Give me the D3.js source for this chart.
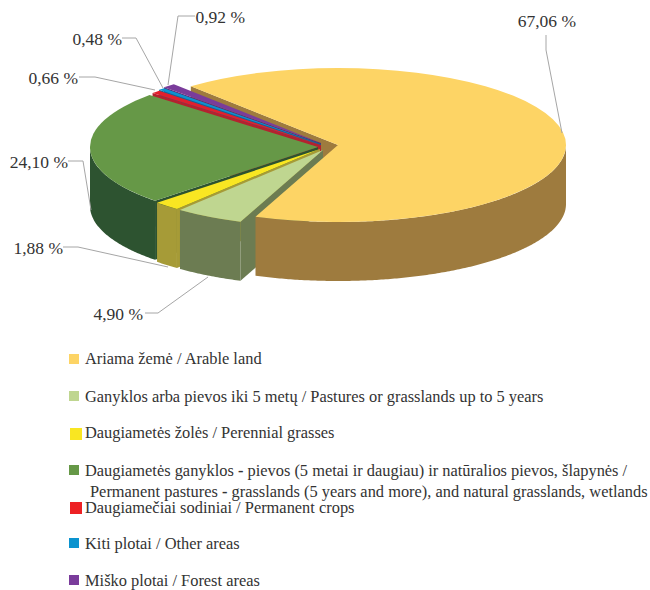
<!DOCTYPE html>
<html>
<head>
<meta charset="utf-8">
<script src="https://cdn.jsdelivr.net/npm/d3@7"></script>
<style>
  html, body { margin: 0; padding: 0; background: #fff; }
  text { font-family: "Liberation Serif", serif; fill: #333; }
</style>
</head>
<body>
<script>
const width = 650,
      height = 590;

const categories = [
  "Ariama žemė / Arable land",
  "Ganyklos arba pievos iki 5 metų / Pastures or grasslands up to 5 years",
  "Daugiametės žolės / Perennial grasses",
  "Daugiametės ganyklos - pievos (5 metai ir daugiau) ir natūralios pievos, šlapynės /",
  "Daugiamečiai sodiniai / Permanent crops",
  "Kiti plotai / Other areas",
  "Miško plotai / Forest areas"
];
const legendExtra = "Permanent pastures - grasslands (5 years and more), and natural grasslands, wetlands";
const values = [67.06, 4.90, 1.88, 24.10, 0.66, 0.48, 0.92];
const valueLabels = ["67,06 %", "4,90 %", "1,88 %", "24,10 %", "0,66 %", "0,48 %", "0,92 %"];

const topColors = ["#fdd465", "#bfd690", "#f9e622", "#669847", "#e21f2d", "#0b93cf", "#7a3c9b"];
const wallColors = ["#9e7b3e", "#6c7c52", "#a69b37", "#2d5330", "#b4222f", "#0a6c98", "#5a2c73"];
const legendColors = ["#fdd465", "#bfd690", "#f9e622", "#669847", "#ed2124", "#0b93cf", "#7a3c9b"];

// where each exploded slice has its centre on the page
const centres = [[338, 145], [323, 150], [320, 149], [318, 147], [321, 145], [321, 144], [321, 143]];
const rx = 228, ry = 77, depth = 59;
const startDeg = -40.2;

// label right edge, baseline y, then the leader line
const labelPos = [
  { x: 576, y: 27, line: [[546, 35], [546, 50], [562, 133]] },
  { x: 143, y: 320, line: [[145, 313], [158, 313], [208, 277]] },
  { x: 63, y: 254, line: [[63, 247], [78, 247], [168, 267]] },
  { x: 68, y: 168, line: [[68, 161], [83, 161], [91, 210]] },
  { x: 78, y: 84, line: [[79, 77], [95, 77], [155, 90]] },
  { x: 122, y: 45, line: [[122, 38], [136, 38], [163, 88]] },
  { x: 245, y: 23, line: [[195, 16], [178, 16], [168, 85]] }
];

const legendY = [364, 402, 438, 476, 513, 549, 586];
const legendBox = [[69, 354, 10], [69, 391, 10], [70, 428, 12], [69, 465, 10], [70, 502, 12], [69, 538, 10], [69, 575, 10]];

const svg = d3.select("body").append("svg")
  .attr("width", width)
  .attr("height", height);

const pie = d3.pie().sort(null)
  .startAngle(startDeg * Math.PI / 180)
  .endAngle((360 + startDeg) * Math.PI / 180);
const slices = pie(values);

const arc = d3.arc().innerRadius(0).outerRadius(rx);
const line = d3.line();

const px = (c, a) => c[0] + rx * Math.sin(a);
const py = (c, a) => c[1] - ry * Math.cos(a);

// curved outer wall, only the part facing the viewer (angle between 90 and 270 deg)
function wallPath(c, a0, a1) {
  const from = Math.max(a0, Math.PI / 2),
        to = Math.min(a1, Math.PI * 3 / 2);
  if (to <= from) return null;
  const pts = d3.range(from, to, 0.01).concat(to).map(a => [px(c, a), py(c, a)]);
  const back = pts.slice().reverse().map(p => [p[0], p[1] + depth]);
  return line(pts.concat(back)) + "Z";
}

// flat cut wall below the first edge of the slice
function edgePath(c, a) {
  return line([
    [px(c, a), py(c, a)], c,
    [c[0], c[1] + depth], [px(c, a), py(c, a) + depth]
  ]) + "Z";
}

function drawSlice(i, withEdge) {
  const d = slices[i], c = centres[i];
  if (withEdge) {
    svg.append("path").attr("d", edgePath(c, d.startAngle)).attr("fill", wallColors[i]);
  }
  const w = wallPath(c, d.startAngle, d.endAngle);
  if (w) svg.append("path").attr("d", w).attr("fill", wallColors[i]);
  svg.append("path")
    .attr("d", arc(d))
    .attr("transform", "translate(" + c[0] + "," + c[1] + ") scale(1," + (ry / rx) + ")")
    .attr("fill", topColors[i]);
}

// the big slice shows its cut wall behind all the small ones
svg.append("path").attr("d", edgePath(centres[0], slices[0].startAngle)).attr("fill", wallColors[0]);
[6, 5, 4, 3, 2, 1].forEach(i => drawSlice(i, true));
drawSlice(0, false);

// leaders and value labels
labelPos.forEach((p, i) => {
  svg.append("path")
    .attr("d", line(p.line))
    .attr("fill", "none")
    .attr("stroke", "#a6a6a6")
    .attr("stroke-width", 1);
  svg.append("text")
    .attr("x", p.x)
    .attr("y", p.y)
    .attr("text-anchor", "end")
    .style("font-size", "17.5px")
    .text(valueLabels[i]);
});

// the hyphen is heavier in the original, so it gets its own tspan
function legendText(x, y, str) {
  const t = svg.append("text")
    .attr("x", x)
    .attr("y", y)
    .style("font-size", "16.4px");
  str.split(" - ").forEach((part, k) => {
    if (k > 0) t.append("tspan").style("font-weight", "bold").text(" - ");
    t.append("tspan").text(part);
  });
}

categories.forEach((name, i) => {
  svg.append("rect")
    .attr("x", legendBox[i][0])
    .attr("y", legendBox[i][1])
    .attr("width", legendBox[i][2])
    .attr("height", legendBox[i][2])
    .attr("fill", legendColors[i]);
  legendText(85, legendY[i], name);
});
legendText(90, 497, legendExtra);
</script>
</body>
</html>
